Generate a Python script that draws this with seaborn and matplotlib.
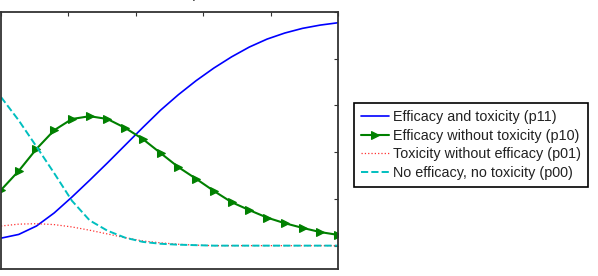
import numpy as np
import pandas as pd
import seaborn as sns
import matplotlib
matplotlib.use('Agg')
import matplotlib.pyplot as plt

# dose index (20 evaluation points)
dose = list(range(20))

# values
p11 = [0.016, 0.024, 0.042, 0.070, 0.104, 0.140, 0.177, 0.215, 0.253, 0.290,
       0.323, 0.353, 0.380, 0.404, 0.425, 0.442, 0.455, 0.465, 0.472, 0.477]
p10 = [0.119, 0.160, 0.207, 0.247, 0.271, 0.277, 0.271, 0.252, 0.228, 0.198,
       0.168, 0.143, 0.117, 0.093, 0.076, 0.060, 0.048, 0.038, 0.029, 0.023]
p01 = [0.042, 0.046, 0.047, 0.045, 0.040, 0.033, 0.025, 0.017, 0.010, 0.006,
       0.003, 0.001, 0.0, 0.0, 0.0, 0.0, 0.0, 0.0, 0.0, 0.0]
p00 = [0.318, 0.268, 0.212, 0.155, 0.096, 0.054, 0.032, 0.017, 0.008, 0.004,
       0.002, 0.001, 0.0, 0.0, 0.0, 0.0, 0.0, 0.0, 0.0, 0.0]

labels = ['Efficacy and toxicity (p11)', 'Efficacy without toxicity (p10)',
          'Toxicity without efficacy (p01)', 'No efficacy, no toxicity (p00)']

sns.set_style('white')
plt.rcParams['font.family'] = ['Liberation Sans', 'DejaVu Sans']

fig = plt.figure(figsize=(5.98, 2.76), dpi=100)
ax = fig.add_axes([1 / 598, 7 / 276, 337 / 598, 257 / 276])

df = pd.DataFrame({'dose': dose, 'p11': p11, 'p10': p10, 'p01': p01, 'p00': p00})

sns.lineplot(data=df, x='dose', y='p11', ax=ax, color='#0000ff', linewidth=1.2,
             label=labels[0])
sns.lineplot(data=df, x='dose', y='p10', ax=ax, color='#008000', linewidth=1.5,
             marker='>', markersize=5.5, markeredgecolor='#008000', label=labels[1])
sns.lineplot(data=df, x='dose', y='p01', ax=ax, color='#ff3030', linewidth=0.9,
             linestyle=':', label=labels[2])
sns.lineplot(data=df, x='dose', y='p00', ax=ax, color='#00bfbf', linewidth=1.4,
             linestyle='--', label=labels[3])

ax.set_xlim(0, 19)
ax.set_ylim(-0.05, 0.5)
ax.set_xticks(np.linspace(0, 19, 6))
ax.set_yticks([0, 0.1, 0.2, 0.3, 0.4, 0.5])
ax.tick_params(direction='in', length=3, width=0.8, top=True, right=True,
               labelbottom=False, labelleft=False, colors='#333333')
ax.set_xlabel('')
ax.set_ylabel('')
for s in ax.spines.values():
    s.set_linewidth(1.3)
    s.set_color('#333333')

handles, labs = ax.get_legend_handles_labels()
ax.get_legend().remove()
leg = fig.legend(handles, labs, loc='upper left', bbox_to_anchor=(354 / 598, 1 - 103 / 276),
                 borderaxespad=0, fontsize=10.4, handlelength=1.9, handletextpad=0.3,
                 labelspacing=0.32, fancybox=False, framealpha=1, borderpad=0.5)
leg.get_frame().set_edgecolor('black')
leg.get_frame().set_linewidth(1.2)
for t in leg.get_texts():
    t.set_color('#222222')

# title sits mostly above the visible canvas
fig.text(199 / 598, 1 + 2 / 276, 'Outcome probabilities', ha='center', va='baseline',
         fontsize=10)

fig.savefig('out.png', dpi=100)
